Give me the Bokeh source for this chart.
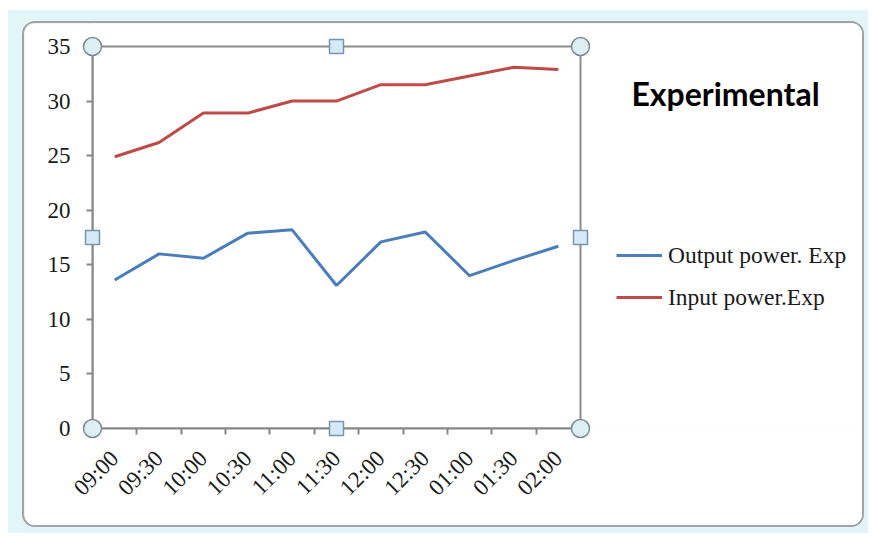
from bokeh.plotting import figure
from bokeh.models import (Range1d, FixedTicker, SingleIntervalTicker, Legend, LegendItem,
                          Label, BoxAnnotation, Column)
from bokeh.embed import file_html
from bokeh.resources import INLINE

# Sample times and measured power values
times = ["09:00", "09:30", "10:00", "10:30", "11:00", "11:30",
         "12:00", "12:30", "01:00", "01:30", "02:00"]
output_power = [13.6, 16.0, 15.6, 17.9, 18.2, 13.1, 17.1, 18.0, 14.0, 15.4, 16.7]
input_power = [24.9, 26.2, 28.9, 28.9, 30.0, 30.0, 31.5, 31.5, 32.3, 33.1, 32.9]
y_ticks = [0, 5, 10, 15, 20, 25, 30, 35]

# canvas geometry (pixels)
W, H = 842, 506
PL, PR, PT, PB = 68, 556, 23, 405    # plot area edges

n = len(times)
y0, y1 = y_ticks[0], y_ticks[-1]
ux = n / (PR - PL)                   # data units per pixel
uy = (y1 - y0) / (PB - PT)
centers = [i + 0.5 for i in range(n)]
bounds = list(range(n + 1))

# the drawing frame starts at the axes and runs to the top/right canvas edges,
# so the legend and heading sit inside it
p = figure(width=W, height=H, output_backend="svg", toolbar_location=None,
           x_range=Range1d(0, n + (W - PR) * ux),
           y_range=Range1d(y0, y1 + PT * uy),
           min_border_left=PL, min_border_right=0,
           min_border_top=0, min_border_bottom=H - PB)
p.border_fill_color = "white"
p.background_fill_color = "white"
p.outline_line_color = None
p.xgrid.visible = False
p.ygrid.visible = False

# plot-area border
p.add_layout(BoxAnnotation(left=0, right=n, bottom=y0, top=y1, fill_color=None,
                           line_color="#8c8c8c", line_alpha=1, line_width=2,
                           level="underlay"))

out_r = p.line(centers, output_power, line_color="#4a7ebb", line_width=3)
in_r = p.line(centers, input_power, line_color="#be4b48", line_width=3)

# x axis: labels at category centres, tick marks between categories
xa = p.xaxis[0]
xa.bounds = (0, n)
xa.ticker = FixedTicker(ticks=centers, minor_ticks=bounds)
xa.major_label_overrides = {c: t for c, t in zip(centers, times)}
xa.major_label_orientation = 0.785398
xa.major_tick_in = 0
xa.major_tick_out = 0
xa.minor_tick_in = 0
xa.minor_tick_out = 6
xa.minor_tick_line_color = "#868686"
xa.minor_tick_line_width = 2
xa.major_label_standoff = 20

ya = p.yaxis[0]
ya.bounds = (y0, y1)
ya.ticker = SingleIntervalTicker(interval=5, num_minor_ticks=0)
ya.major_tick_in = 0
ya.major_tick_out = 6
ya.major_tick_line_color = "#868686"
ya.major_tick_line_width = 2
ya.minor_tick_line_color = None
ya.major_label_standoff = 16

for ax in (xa, ya):
    ax.axis_line_color = "#868686"
    ax.axis_line_width = 2
    ax.major_label_text_font = "Liberation Serif"
    ax.major_label_text_font_size = "23px"
    ax.major_label_text_color = "#1a1a1a"

# selection handles: circles at the corners, squares at the edge midpoints
hc = p.scatter([0, n, 0, n], [y0, y0, y1, y1], marker="circle", size=18,
               fill_color="#dcf0f4", line_color="#7d8c96", line_width=1.5)
hs = p.scatter([n / 2, n / 2, 0, n], [y0, y1, (y0 + y1) / 2, (y0 + y1) / 2],
               marker="square", size=14,
               fill_color="#d4ebf7", line_color="#7794b3", line_width=1.5)
hc.level = "overlay"
hs.level = "overlay"

legend = Legend(items=[LegendItem(label="Output power. Exp", renderers=[out_r]),
                       LegendItem(label="Input power.Exp", renderers=[in_r])],
                location=(592 - PL, PB - 289))
legend.border_line_color = None
legend.background_fill_alpha = 0
legend.padding = 0
legend.margin = 0
legend.spacing = 12
legend.label_height = 30
legend.glyph_height = 30
legend.glyph_width = 46
legend.label_standoff = 6
legend.label_text_font = "Liberation Serif"
legend.label_text_font_size = "23.5px"
legend.label_text_color = "#1a1a1a"
p.add_layout(legend)

p.add_layout(Label(x=699, y=68, x_units="canvas", y_units="canvas", text="Experimental",
                   text_align="center", text_baseline="middle",
                   text_font="Lato", text_font_style="bold", text_font_size="32px",
                   text_color="black"))

# rounded chart panel inside a pale selection band
p.styles = {"border": "2px solid #a3a3a3", "border-radius": "13px", "overflow": "hidden"}
page = Column(children=[p], styles={"background-color": "#e2f5f8",
                                    "margin": "10px 0 0 8px",
                                    "padding": "11px 4px 6px 14px"})

open("out.html", "w").write(file_html(page, INLINE))
